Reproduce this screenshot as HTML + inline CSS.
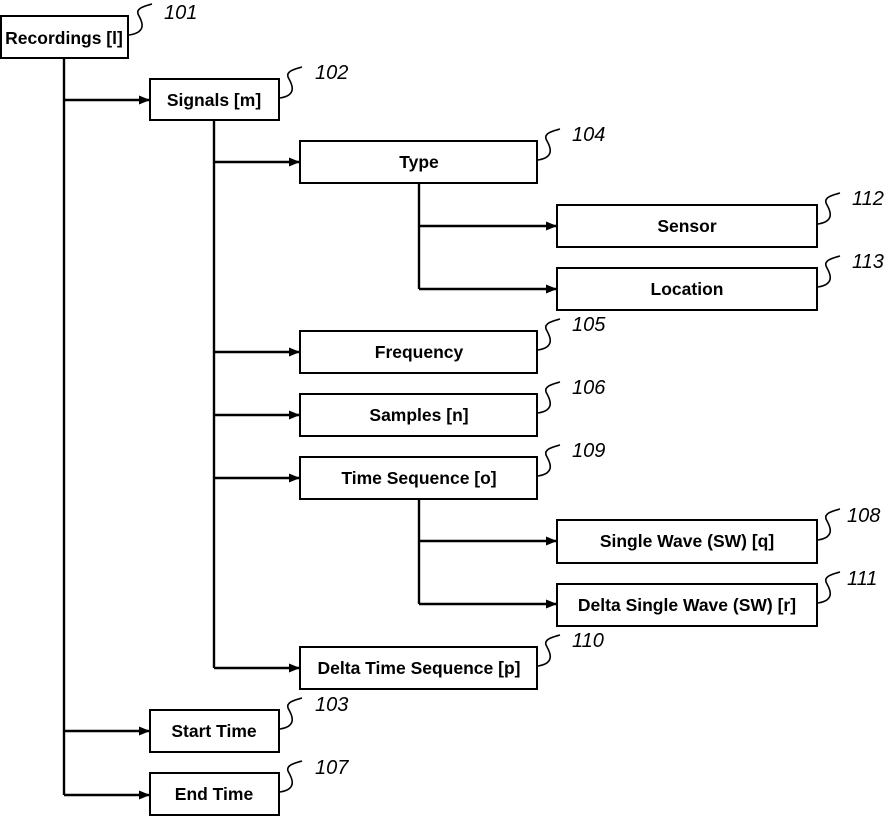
<!DOCTYPE html>
<html><head><meta charset="utf-8"><style>
html,body{margin:0;padding:0;background:#fff;}
svg{display:block;}
.b{fill:#fff;stroke:#000;stroke-width:2;}
.t{font-family:"Liberation Sans",sans-serif;font-weight:bold;font-size:17.5px;text-anchor:middle;dominant-baseline:central;}
.n{font-family:"Liberation Sans",sans-serif;font-style:italic;font-size:20px;}
.l{stroke:#000;stroke-width:2.4;fill:none;}
.s{stroke:#000;stroke-width:1.6;fill:none;}
</style></head><body>
<svg width="887" height="817" viewBox="0 0 887 817">
<defs><marker id="a" markerWidth="11" markerHeight="9" refX="10" refY="4.5" orient="auto" markerUnits="userSpaceOnUse"><path d="M0,0 L11,4.5 L0,9 Z" fill="#000"/></marker></defs>
<path class="l" d="M64,58 V795"/>
<path class="l" d="M64,100 H149" marker-end="url(#a)"/>
<path class="l" d="M64,731 H149" marker-end="url(#a)"/>
<path class="l" d="M64,795 H149" marker-end="url(#a)"/>
<path class="l" d="M214,120 V668"/>
<path class="l" d="M214,162 H299" marker-end="url(#a)"/>
<path class="l" d="M214,352 H299" marker-end="url(#a)"/>
<path class="l" d="M214,415 H299" marker-end="url(#a)"/>
<path class="l" d="M214,478 H299" marker-end="url(#a)"/>
<path class="l" d="M214,668 H299" marker-end="url(#a)"/>
<path class="l" d="M419,183 V289"/>
<path class="l" d="M419,226 H556" marker-end="url(#a)"/>
<path class="l" d="M419,289 H556" marker-end="url(#a)"/>
<path class="l" d="M419,499 V604"/>
<path class="l" d="M419,541 H556" marker-end="url(#a)"/>
<path class="l" d="M419,604 H556" marker-end="url(#a)"/>
<rect class="b" x="1" y="16" width="127" height="42"/><text class="t" x="64" y="38">Recordings [l]</text>
<rect class="b" x="150" y="79" width="129" height="41"/><text class="t" x="214" y="100">Signals [m]</text>
<rect class="b" x="300" y="141" width="237" height="42"/><text class="t" x="419" y="162">Type</text>
<rect class="b" x="557" y="205" width="260" height="42"/><text class="t" x="687" y="226">Sensor</text>
<rect class="b" x="557" y="268" width="260" height="42"/><text class="t" x="687" y="289">Location</text>
<rect class="b" x="300" y="331" width="237" height="42"/><text class="t" x="419" y="352">Frequency</text>
<rect class="b" x="300" y="394" width="237" height="42"/><text class="t" x="419" y="415">Samples [n]</text>
<rect class="b" x="300" y="457" width="237" height="42"/><text class="t" x="419" y="478">Time Sequence [o]</text>
<rect class="b" x="557" y="520" width="260" height="43"/><text class="t" x="687" y="541">Single Wave (SW) [q]</text>
<rect class="b" x="557" y="584" width="260" height="42"/><text class="t" x="687" y="605">Delta Single Wave (SW) [r]</text>
<rect class="b" x="300" y="647" width="237" height="42"/><text class="t" x="419" y="668">Delta Time Sequence [p]</text>
<rect class="b" x="150" y="710" width="129" height="42"/><text class="t" x="214" y="731">Start Time</text>
<rect class="b" x="150" y="773" width="129" height="42"/><text class="t" x="214" y="794">End Time</text>
<path class="s" d="M129,35 C150,32 140,18 138,14 C136,8 145,6 152,4"/><text class="n" x="164" y="19">101</text>
<path class="s" d="M280,98 C300,95 290,81 288,77 C286,71 295,69 302,67"/><text class="n" x="315" y="79">102</text>
<path class="s" d="M538,160 C558,157 548,143 546,139 C544,133 553,131 560,129"/><text class="n" x="572" y="141">104</text>
<path class="s" d="M818,224 C838,221 828,207 826,203 C824,197 833,195 840,193"/><text class="n" x="852" y="205">112</text>
<path class="s" d="M818,287 C838,284 828,270 826,266 C824,260 833,258 840,256"/><text class="n" x="852" y="268">113</text>
<path class="s" d="M538,350 C558,347 548,333 546,329 C544,323 553,321 560,319"/><text class="n" x="572" y="331">105</text>
<path class="s" d="M538,413 C558,410 548,396 546,392 C544,386 553,384 560,382"/><text class="n" x="572" y="394">106</text>
<path class="s" d="M538,476 C558,473 548,459 546,455 C544,449 553,447 560,445"/><text class="n" x="572" y="457">109</text>
<path class="s" d="M818,540 C838,537 828,523 826,519 C824,513 833,511 840,509"/><text class="n" x="847" y="522">108</text>
<path class="s" d="M818,603 C838,600 828,586 826,582 C824,576 833,574 840,572"/><text class="n" x="847" y="585">111</text>
<path class="s" d="M538,666 C558,663 548,649 546,645 C544,639 553,637 560,635"/><text class="n" x="572" y="647">110</text>
<path class="s" d="M280,729 C300,726 290,712 288,708 C286,702 295,700 302,698"/><text class="n" x="315" y="711">103</text>
<path class="s" d="M280,792 C300,789 290,775 288,771 C286,765 295,763 302,761"/><text class="n" x="315" y="774">107</text>
</svg>
</body></html>
